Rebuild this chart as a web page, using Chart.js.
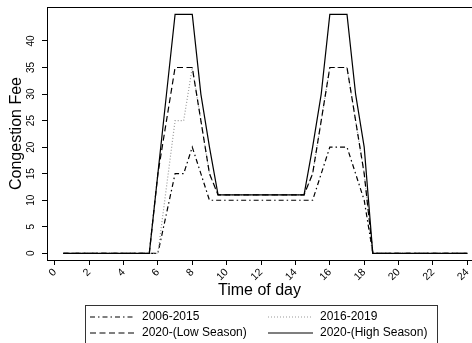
<!DOCTYPE html>
<html>
<head>
<meta charset="utf-8">
<script src="https://cdn.jsdelivr.net/npm/chart.js@4/dist/chart.umd.min.js"></script>
<style>
  html, body { margin: 0; padding: 0; background: #fff; }
  #wrap { width: 472px; height: 343px; }
</style>
</head>
<body>
<div id="wrap"><canvas id="chart"></canvas></div>
<script>
// values (hour of day -> fee)
const hours2006 = [0.5, 6, 7, 7.5, 8, 8.5, 9, 15, 15.5, 16, 17, 17.5, 18, 18.5, 24];
const fee2006 = [0, 0, 15, 15, 20, 15, 10, 10, 15, 20, 20, 15, 10, 0, 0];

const hours2016 = [0.5, 6, 7, 7.5, 8, 8.5, 9, 9.5, 14.5, 15, 15.5, 16, 17, 17.5, 18, 18.5, 24];
const fee2016 = [0, 0, 25, 25, 35, 25, 15, 11, 11, 15, 25, 35, 35, 25, 15, 0, 0];

const hoursLow = [0.5, 5.5, 6, 6.5, 7, 8, 8.5, 9, 9.5, 14.5, 15, 15.5, 16, 17, 17.5, 18, 18.5, 24];
const feeLow = [0, 0, 15, 25, 35, 35, 25, 15, 11, 11, 15, 25, 35, 35, 25, 15, 0, 0];

const hoursHigh = [0.5, 5.5, 6, 6.5, 7, 8, 8.5, 9, 9.5, 14.5, 15, 15.5, 16, 17, 17.5, 18, 18.5, 24];
const feeHigh = [0, 0, 15, 30, 45, 45, 30, 20, 11, 11, 20, 30, 45, 45, 30, 20, 0, 0];

const seriesLabels = ["2006-2015", "2016-2019", "2020-(Low Season)", "2020-(High Season)"];
const xTicks = [0, 2, 4, 6, 8, 10, 12, 14, 16, 18, 20, 22, 24];
const yTicks = [0, 5, 10, 15, 20, 25, 30, 35, 40];

const FONT = "'Liberation Sans', Arial, sans-serif";
const pts = (xs, ys) => xs.map((x, i) => ({ x: x, y: ys[i] }));

const styles = [
  { color: "#000", dash: [5, 3, 1.5, 3] },
  { color: "#9a9a9a", dash: [1, 2] },
  { color: "#000", dash: [6, 3.5] },
  { color: "#000", dash: [] }
];
const seriesData = [pts(hours2006, fee2006), pts(hours2016, fee2016), pts(hoursLow, feeLow), pts(hoursHigh, feeHigh)];

const datasets = seriesData.map((d, i) => ({
  label: seriesLabels[i],
  data: d,
  borderColor: styles[i].color,
  borderDash: styles[i].dash,
  borderWidth: 1.2,
  pointRadius: 0,
  tension: 0,
  fill: false,
  order: 3 - i
}));

// top frame line + boxed two-column legend
const extras = {
  id: "extras",
  afterDraw(chart) {
    const ctx = chart.ctx;
    const a = chart.chartArea;
    ctx.save();
    ctx.strokeStyle = "#000";
    ctx.lineWidth = 1;
    ctx.beginPath();
    ctx.moveTo(a.left, a.top + 0.5);
    ctx.lineTo(a.right, a.top + 0.5);
    ctx.stroke();

    ctx.strokeStyle = "#333";
    ctx.strokeRect(85.5, 305.5, 352, 45);

    const cols = [90, 268];
    const rows = [317, 333];
    ctx.font = "12px " + FONT;
    ctx.textBaseline = "middle";
    ctx.fillStyle = "#000";
    seriesLabels.forEach((lab, i) => {
      const cx = cols[i % 2];
      const cy = rows[Math.floor(i / 2)];
      ctx.strokeStyle = styles[i].color;
      ctx.lineWidth = 1.2;
      ctx.setLineDash(styles[i].dash);
      ctx.beginPath();
      ctx.moveTo(cx, cy);
      ctx.lineTo(cx + 45, cy);
      ctx.stroke();
      ctx.setLineDash([]);
      ctx.fillText(lab, cx + 52, cy);
    });
    ctx.restore();
  }
};

new Chart(document.getElementById("chart"), {
  type: "line",
  data: { datasets: datasets },
  options: {
    responsive: true,
    maintainAspectRatio: false,
    animation: false,
    layout: { padding: { left: 0, right: 0, top: 7, bottom: 42.4 } },
    plugins: { legend: { display: false }, tooltip: { enabled: false } },
    scales: {
      x: {
        type: "linear",
        min: -0.45,
        max: 24.27,
        afterBuildTicks: s => { s.ticks = xTicks.map(v => ({ value: v })); },
        afterFit: s => { s.height = 40.6; s.paddingLeft = 0; s.paddingRight = 0; },
        grid: { drawOnChartArea: false, drawTicks: true, tickLength: 5, color: "#000" },
        border: { display: true, color: "#000", width: 1 },
        ticks: { minRotation: 45, maxRotation: 45, padding: 1, color: "#000", font: { family: FONT, size: 10.5 } },
        title: { display: true, text: "Time of day", color: "#000", padding: { top: 0, bottom: 0 }, font: { family: FONT, size: 16 } }
      },
      y: {
        min: -1.26,
        max: 46.4,
        afterBuildTicks: s => { s.ticks = yTicks.map(v => ({ value: v })); },
        afterFit: s => { s.width = 47; s.paddingTop = 0; s.paddingBottom = 0; },
        grid: { drawOnChartArea: false, drawTicks: true, tickLength: 5, color: "#000" },
        border: { display: true, color: "#000", width: 1 },
        ticks: { minRotation: 90, maxRotation: 90, crossAlign: "center", padding: 5, color: "#000", font: { family: FONT, size: 10 } },
        title: { display: true, text: "Congestion Fee", color: "#000", padding: { top: 7, bottom: 0 }, font: { family: FONT, size: 16 } }
      }
    }
  },
  plugins: [extras]
});
</script>
</body>
</html>
